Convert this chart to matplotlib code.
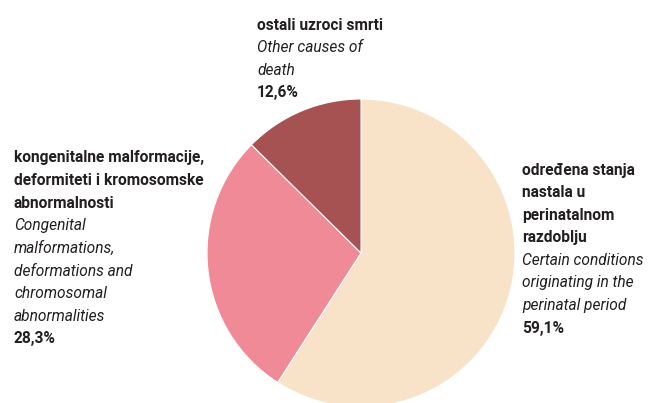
import matplotlib.pyplot as plt

plt.rcParams['font.family'] = ['Roboto', 'DejaVu Sans']

# data
shares = [59.1, 28.3, 12.6]
colors = ['#F9E3C8', '#EF8A96', '#A65253']
labels_hr = [['određena stanja', 'nastala u', 'perinatalnom', 'razdoblju'],
             ['kongenitalne malformacije,', 'deformiteti i kromosomske', 'abnormalnosti'],
             ['ostali uzroci smrti']]
labels_en = [['Certain conditions', 'originating in the', 'perinatal period'],
             ['Congenital', 'malformations,', 'deformations and', 'chromosomal', 'abnormalities'],
             ['Other causes of', 'death']]
pct_labels = ['59,1%', '28,3%', '12,6%']

W, H = 648, 403
fig = plt.figure(figsize=(W / 100, H / 100), dpi=100)

# pie: center (361, 253) px, radius 154 px
cx, cy, r = 361, 253, 154
ax = fig.add_axes([(cx - r) / W, (H - cy - r) / H, 2 * r / W, 2 * r / H])
ax.pie(shares, colors=colors, startangle=90, counterclock=False,
       wedgeprops=dict(edgecolor='white', linewidth=0.8))
ax.set_xlim(-1, 1)
ax.set_ylim(-1, 1)
ax.set_aspect('equal')
ax.axis('off')

# text blocks: left x, first line center y (px)
block_pos = [(522, 170), (14, 158), (257, 25)]
step = 22.6
txt_color = '#231F20'

for i in range(3):
    x0, y0 = block_pos[i]
    lines = ([(t, 'bold', 'normal') for t in labels_hr[i]]
             + [(t, 'normal', 'italic') for t in labels_en[i]]
             + [(pct_labels[i], 'bold', 'normal')])
    for k, (t, w, s) in enumerate(lines):
        fig.text(x0 / W, 1 - (y0 + k * step) / H, t, fontsize=11.2,
                 fontweight=w, fontstyle=s, color=txt_color,
                 ha='left', va='center')

fig.savefig('out.png', dpi=100)
